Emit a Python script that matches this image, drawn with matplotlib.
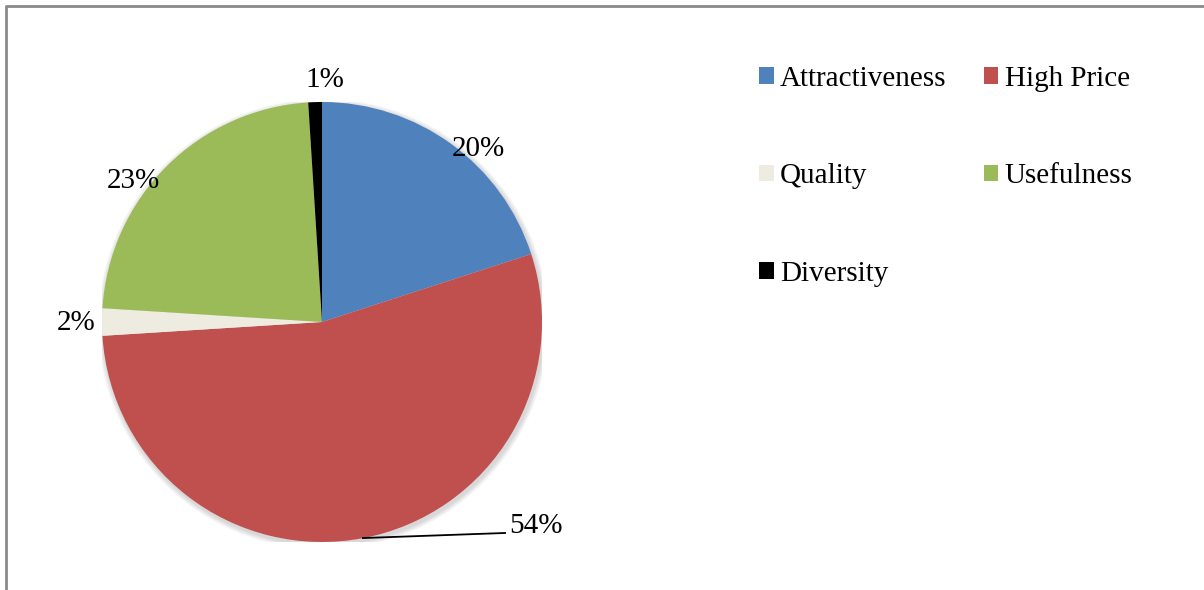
import matplotlib
matplotlib.use("Agg")
import matplotlib.pyplot as plt
from matplotlib.patches import Circle, Patch
from matplotlib.lines import Line2D

# Survey shares (percent)
categories = ["Attractiveness", "High Price", "Quality", "Usefulness", "Diversity"]
shares = [20, 54, 2, 23, 1]
colors = ["#4F81BD", "#C0504D", "#EEECE1", "#9BBB59", "#000000"]

# label anchor points in pie-axes coordinates (radius = 1)
label_xy = [(0.709, 0.786), (0.973, -0.927), (-1.118, -0.005), (-0.859, 0.641), (0.014, 1.10)]

W, H = 1204, 590
fig = plt.figure(figsize=(W / 100, H / 100), dpi=100)
plt.rcParams["font.family"] = ["Liberation Serif", "DejaVu Serif"]
FS = 21

# outer frame (top and left edges visible)
frame_kw = dict(color="#8a8a8a", lw=2.0, transform=fig.transFigure, solid_capstyle="butt")
fig.add_artist(Line2D([5.5 / W, 1.0], [1 - 6 / H, 1 - 6 / H], **frame_kw))
fig.add_artist(Line2D([6 / W, 6 / W], [0.0, 1 - 5 / H], **frame_kw))

cx, cy, r = 322, 322, 220
ax = fig.add_axes([(cx - r) / W, (H - cy - r) / H, 2 * r / W, 2 * r / H])

# soft drop shadow
for k in range(4):
    ax.add_patch(Circle((0.006, -0.010), 1.0 + 0.006 * (k + 1), color="#000000",
                        alpha=0.04, lw=0, zorder=0))

wedges, _ = ax.pie(shares, colors=colors, startangle=90, counterclock=False,
                   radius=1.0, wedgeprops=dict(linewidth=0, zorder=2))
ax.set_xlim(-1, 1)
ax.set_ylim(-1, 1)
ax.set_aspect("auto")
ax.axis("off")

for v, (x, y) in zip(shares, label_xy):
    ax.text(x, y, f"{v}%", fontsize=FS, ha="center", va="center", color="#000000",
            zorder=5, clip_on=False)

# leader line for the large slice label
ax.add_line(Line2D([0.186, 0.832], [-0.982, -0.959], color="#000000", lw=1.3,
                   clip_on=False, zorder=4))

# legend reads row by row: matplotlib fills columns first, so reorder
order = [0, 2, 4, 1, 3]
handles = [Patch(facecolor=colors[i], edgecolor="none") for i in order]
labels = [categories[i] for i in order]
fig.legend(handles, labels, loc="upper left", bbox_to_anchor=(759 / W, 1 - 66 / H),
           ncol=2, frameon=False, fontsize=FS, handlelength=0.5, handleheight=0.5,
           handletextpad=0.22, columnspacing=1.28, labelspacing=2.45, borderpad=0,
           borderaxespad=0)

fig.savefig("out.png", dpi=100)
